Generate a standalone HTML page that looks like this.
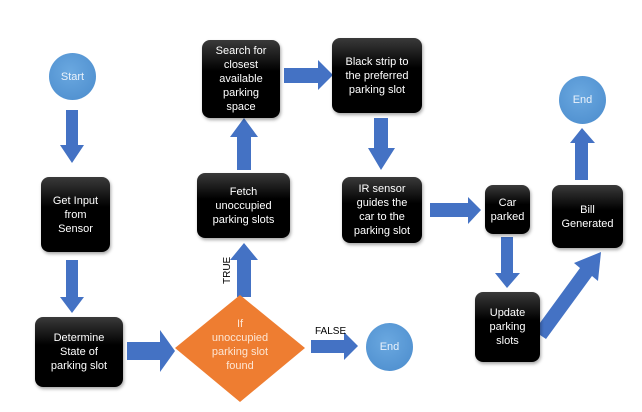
<!DOCTYPE html>
<html><head><style>
body{margin:0;background:#fff;width:642px;height:412px;overflow:hidden;position:relative;font-family:"Liberation Sans",sans-serif}
.b{position:absolute;background:linear-gradient(#3a3a3a,#000 40%);border-radius:8px;color:#fff;font-size:11px;line-height:14px;display:flex;align-items:center;justify-content:center;text-align:center;box-shadow:1px 2px 3px rgba(0,0,0,.35)}
.c{position:absolute;border-radius:50%;background:radial-gradient(circle at 45% 40%,#6aa8e0,#4a8bcc);color:#eaf2fb;font-size:11px;display:flex;align-items:center;justify-content:center}
svg{position:absolute;left:0;top:0}
</style></head><body>
<svg width="642" height="412">
<g fill="#4472c4">
<polygon points="66,110 78,110 78,145 84,145 72,163 60,145 66,145"/>
<polygon points="66,260 78,260 78,297 84,297 72,313 60,297 66,297"/>
<polygon points="127,342 160,342 160,330 175,351 160,372 160,360 127,360"/>
<polygon points="237,297 251,297 251,260 258,260 244,243 230,260 237,260"/>
<polygon points="237,170 251,170 251,137 258,137 244,118 230,137 237,137"/>
<polygon points="284,68 318,68 318,60 333,75 318,90 318,83 284,83"/>
<polygon points="374,118 388,118 388,148 395,148 381,170 368,148 374,148"/>
<polygon points="430,203 468,203 468,197 481,210 468,224 468,217 430,217"/>
<polygon points="501,237 513,237 513,273 520,273 507,288 495,273 501,273"/>
<polygon points="575,180 588,180 588,143 595,143 582,128 570,143 575,143"/>
<polygon points="311,340 344,340 344,332 358,346 344,360 344,353 311,353"/>
<polygon points="534,331 580,268 574,263 601,252 598,281 592,276 546,339"/>
</g>
<polygon points="240,295 305,348 240,402 175,348" fill="#ee7d31"/>
<text x="240" y="327" fill="#fde6d4" font-size="11" text-anchor="middle">If</text>
<text x="240" y="341" fill="#fde6d4" font-size="11" text-anchor="middle">unoccupied</text>
<text x="240" y="355" fill="#fde6d4" font-size="11" text-anchor="middle">parking slot</text>
<text x="240" y="369" fill="#fde6d4" font-size="11" text-anchor="middle">found</text>
<text transform="translate(230,284) rotate(-90)" font-size="10" fill="#000">TRUE</text>
<text x="315" y="334" font-size="10" fill="#000">FALSE</text>
</svg>
<div class="c" style="left:49px;top:53px;width:47px;height:47px">Start</div>
<div class="c" style="left:366px;top:323px;width:47px;height:48px">End</div>
<div class="c" style="left:559px;top:76px;width:47px;height:48px">End</div>
<div class="b" style="left:41px;top:177px;width:69px;height:75px">Get Input<br>from<br>Sensor</div>
<div class="b" style="left:35px;top:317px;width:88px;height:70px">Determine<br>State of<br>parking slot</div>
<div class="b" style="left:197px;top:173px;width:93px;height:65px">Fetch<br>unoccupied<br>parking slots</div>
<div class="b" style="left:202px;top:40px;width:78px;height:78px">Search for<br>closest<br>available<br>parking<br>space</div>
<div class="b" style="left:332px;top:38px;width:90px;height:75px">Black strip to<br>the preferred<br>parking slot</div>
<div class="b" style="left:342px;top:177px;width:80px;height:66px">IR sensor<br>guides the<br>car to the<br>parking slot</div>
<div class="b" style="left:485px;top:185px;width:45px;height:49px">Car<br>parked</div>
<div class="b" style="left:475px;top:292px;width:65px;height:70px">Update<br>parking<br>slots</div>
<div class="b" style="left:552px;top:185px;width:71px;height:63px">Bill<br>Generated</div>
</body></html>
